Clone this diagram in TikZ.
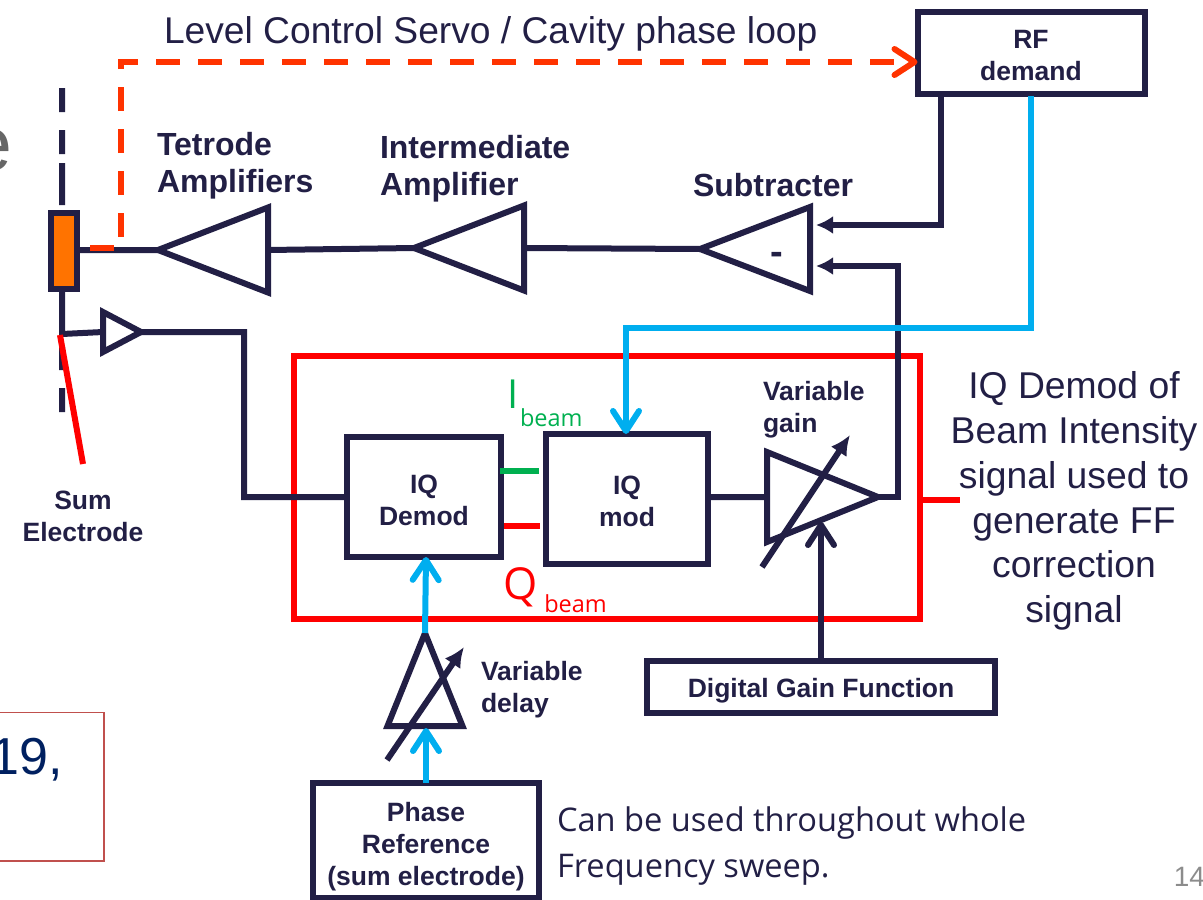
\documentclass[tikz,border=0pt]{standalone}
\usepackage{fontspec}
\setmainfont{Liberation Sans}
\newfontfamily\notefont{Open Sans}
\usetikzlibrary{positioning,shapes.geometric,arrows.meta}
\definecolor{navy}{HTML}{221F45}
\definecolor{loopred}{HTML}{FF3300}
\definecolor{sigblue}{HTML}{00AEEF}
\definecolor{sigred}{HTML}{FF0000}
\definecolor{siggreen}{HTML}{00B050}
\definecolor{slidetext}{HTML}{002060}
\definecolor{notered}{HTML}{C0504D}

\begin{document}
\begin{tikzpicture}[
  x=1pt,y=-1pt,
  every node/.style={inner sep=0pt,outer sep=0pt},
  every path/.style={line width=6pt,>=latex},
  wire/.style={draw=navy,line join=miter},
  barb/.style={-{Straight Barb[length=20pt,width=26pt,line width=6pt,round]}},
  head/.style={-{Latex[length=17pt,width=18pt]}},
  slider/.style={draw=navy,-{Latex[length=20pt,width=19pt]}},
  block/.style={draw=navy,line width=6pt,align=center,
    text=navy,font=\bfseries\fontsize{26.5}{32}\selectfont},
  amp/.style={draw=navy,line width=6pt,isosceles triangle,
    isosceles triangle stretches,shape border rotate=#1},
  title/.style={text=navy,align=left,font=\bfseries\fontsize{32}{37}\selectfont},
  small/.style={text=navy,align=left,font=\bfseries\fontsize{26.5}{32}\selectfont},
  beamsub/.style={anchor=west,font=\notefont\fontsize{23.5}{28}\selectfont},
  ]
  \useasboundingbox (0,0) rectangle (1203,900);
  % slide behind the figure
  \node[text=black!60,anchor=east,font=\fontsize{77}{80}\selectfont] (leftA) at (12,150) {e};
  \node[text=black!60,anchor=east,font=\fontsize{77}{80}\selectfont] (leftB) at (2,415) {e};
  \draw[notered,line width=1.5pt] (-5,712.5) rectangle (104,861);
  \node[text=slidetext,anchor=east,font=\fontsize{52}{56}\selectfont] (leftC) at (63,760) {19,};
  \node[text=black!45,anchor=east,font=\fontsize{28}{32}\selectfont] (page) at (1205,877) {14};

  % blocks
  \node[block,minimum width=227pt,minimum height=82pt] (rfdemand) at (1031,53) {\rule{0pt}{23.5pt}RF\\demand};
  \node[block,minimum width=154pt,minimum height=120pt] (demod) at (424,497) {\rule{0pt}{25.5pt}IQ\\Demod};
  \node[block,minimum width=162pt,minimum height=130pt] (iqmod) at (627,499) {\rule{0pt}{23.5pt}IQ\\mod};
  \node[block,minimum width=348pt,minimum height=52pt] (gainfn) at (821,687) {\rule{0pt}{27.5pt}Digital Gain Function};
  \node[block,minimum width=226pt,minimum height=115pt] (phaseref) at (426,840) {\rule{0pt}{31.5pt}Phase\\Reference\\(sum electrode)};
  \node[draw=navy,line width=6pt,fill=orange!90!red,
    minimum width=26pt,minimum height=76pt] (sum) at (64,251) {};

  % amplifiers
  \node[amp=180,minimum width=85pt,minimum height=110pt,anchor=apex] (tetrode) at (158,250) {};
  \node[amp=180,minimum width=85pt,minimum height=110pt,anchor=apex] (inter) at (414,248) {};
  \node[amp=180,minimum width=84pt,minimum height=110pt,anchor=apex] (subtract) at (700,249) {};
  \node[amp=0,minimum width=40pt,minimum height=38pt,anchor=apex] (pickup) at (141,332) {};
  \node[amp=0,minimum width=90pt,minimum height=111pt,anchor=apex] (vargain) at (878,497) {};
  \node[amp=90,minimum width=75pt,minimum height=93pt,anchor=apex] (vardelay) at (425,633) {};
  \node[draw=sigred,line width=6pt,
    minimum width=626pt,minimum height=263pt] (redbox) at (607,487) {};

  % labels
  \node[anchor=west,text=navy,font=\fontsize{37.2}{42}\selectfont] (looplabel) at (164,34) {Level Control Servo / Cavity phase loop};
  \node[title,anchor=west] (tetrodelabel) at (157,166) {Tetrode\\Amplifiers};
  \node[title,anchor=west] (interlabel) at (380,169) {Intermediate\\Amplifier};
  \node[title,anchor=west] (subtractlabel) at (693,185) {Subtracter};
  \node[title,font=\bfseries\fontsize{38}{40}\selectfont] (minus) at (777,258) {-};
  \node[small,anchor=west] (gainlabel) at (763,410) {Variable\\gain};
  \node[small,anchor=west] (delaylabel) at (481,690) {Variable\\delay};
  \node[small,align=center] (sumlabel) at (83,516) {Sum\\Electrode};
  \node[align=center,text=navy,font=\fontsize{37.3}{44.8}\selectfont] (demodnote) at (1074,501)
    {IQ Demod of\\Beam Intensity\\signal used to\\generate FF\\correction\\signal};
  \node[anchor=west,align=left,text=navy,font=\notefont\fontsize{32.6}{46}\selectfont] (sweepnote) at (557,846)
    {Can be used throughout whole\\Frequency sweep.};
  \node[text=siggreen,anchor=west,font=\notefont\fontsize{40}{44}\selectfont] (ilabel) at (507,394) {I};
  \node[beamsub,text=siggreen] (ibeam) at (520,418) {beam};
  \node[text=sigred,anchor=west,font=\notefont\fontsize{44}{48}\selectfont] (qlabel) at (503,587) {Q};
  \node[beamsub,text=sigred,right=7pt of qlabel.east,yshift=-17pt] (qbeam) {beam};

  % beam pipe
  \coordinate (pipeA) at (62,88);
  \coordinate (pipeB) at (62,112);
  \coordinate (pipeC) at (62,130);
  \coordinate (pipeD) at (62,154);
  \coordinate (pipeE) at (62,163);
  \coordinate (pipeF) at (62,205);
  \coordinate (pipeG) at (62,334);
  \coordinate (pipeH) at (62,347);
  \coordinate (pipeI) at (62,370);
  \coordinate (pipeJ) at (62,388);
  \coordinate (pipeK) at (62,412);
  \path[wire]
  (pipeA) -- (pipeB) (pipeC) -- (pipeD) (pipeE) -- (pipeF)
  (pipeH) -- (pipeI) (pipeJ) -- (pipeK)
  (sum.south) ++(-2,0) -- (pipeG) -- (pickup.lower side);
  \coordinate (sumtip) at (83,464);
  \draw[sigred] (60,335) -- (sumtip);

  % forward path
  \path[wire]
  (sum.east |- tetrode.apex) -- (tetrode.apex)
  (tetrode.lower side) -- (inter.apex)
  (inter.lower side) -- (subtract.apex)
  (pickup.apex) -- (244,332) |- (demod.west)
  (iqmod.east |- vargain.lower side) -- (vargain.lower side);
  \draw[wire,head] (rfdemand.south -| 941,0) -- (941,225) -- (816,225);
  \draw[wire,head] (vargain.apex) -- (898,497) -- (898,266) -- (816,266);
  \draw[wire,barb] (gainfn.north) -- (821,522);

  % sliders through the variable amplifiers
  \coordinate (gainA) at (762,567);
  \coordinate (gainB) at (850,435);
  \coordinate (delayA) at (387,760);
  \coordinate (delayB) at (464,647);
  \draw[slider] (gainA) -- (gainB);
  \draw[slider] (delayA) -- (delayB);

  % iq lines and loops
  \draw[siggreen] (500,471) -- (539,471);
  \draw[sigred] (504,526) -- (540,526);
  \draw[sigred] (redbox.east |- 0,500) -- (960,500);
  \draw[sigblue,barb] (1031,96) -- (1031,328) -- (626,328) -- (iqmod.north -| 626,0);
  \draw[sigblue,barb] (vardelay.apex) -- (demod.south -| 426,0);
  \draw[sigblue,barb] (phaseref.north) -- (426,728);
  \draw[loopred,barb,dash pattern=on 24pt off 18pt] (90,248) -- (121,248) -- (121,62) -- (rfdemand.west |- 0,62);
\end{tikzpicture}
\end{document}
